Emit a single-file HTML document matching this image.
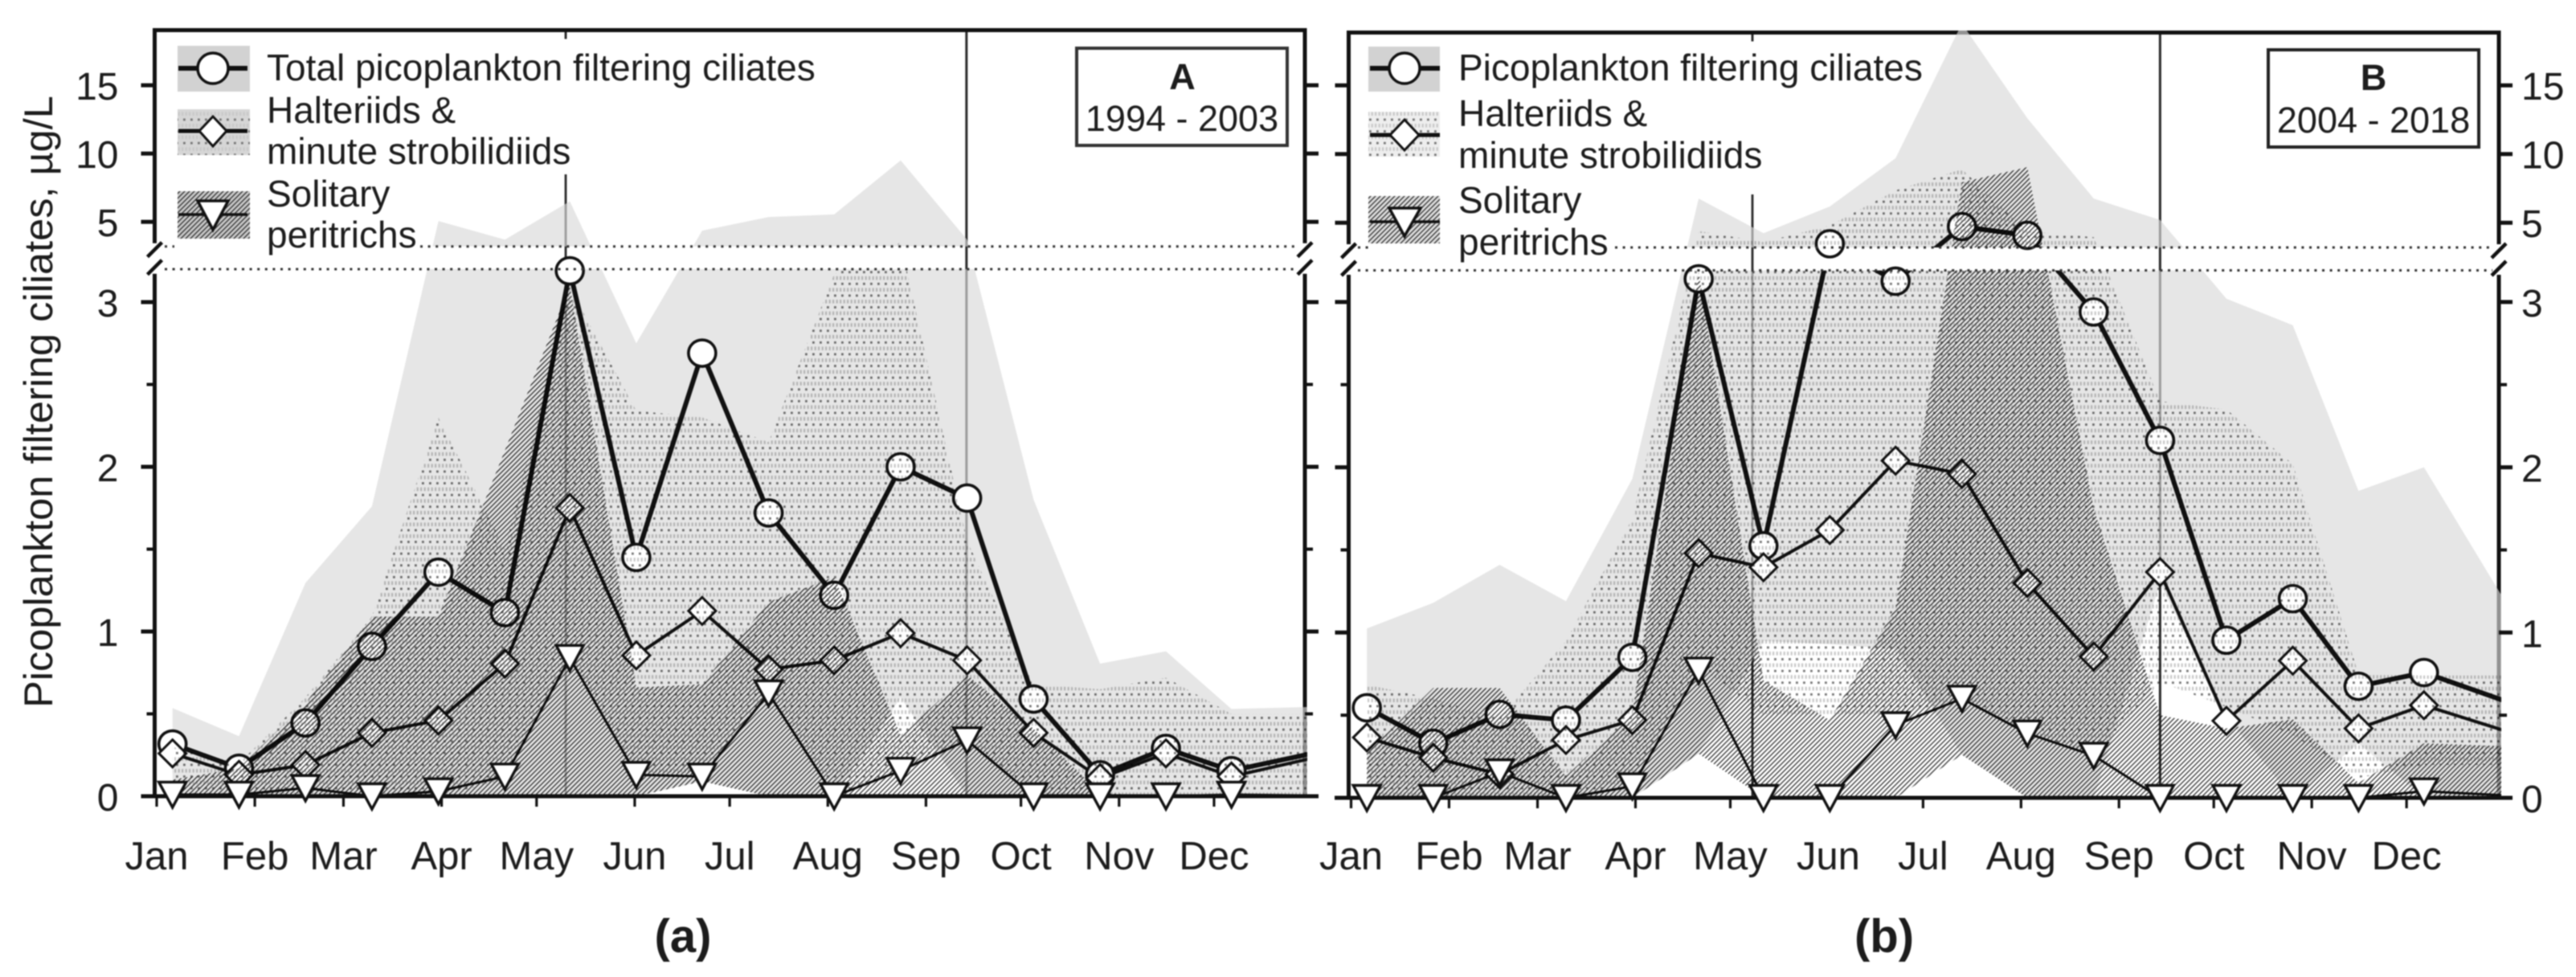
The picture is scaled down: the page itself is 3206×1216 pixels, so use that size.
<!DOCTYPE html>
<html lang="en">
<head>
<meta charset="utf-8">
<title>Picoplankton filtering ciliates, 1994-2003 and 2004-2018</title>
<style>
html,body{margin:0;padding:0;background:#fff;}
svg{display:block;filter:blur(0.85px);}
text{font-family:"Liberation Sans",Arial,sans-serif;fill:#1c1c1c;}
</style>
</head>
<body>
<svg id="chart" xmlns="http://www.w3.org/2000/svg" width="3206" height="1216" viewBox="0 0 3206 1216">
  <defs>
    <pattern id="hatch" patternUnits="userSpaceOnUse" width="6" height="6">
      <path d="M-1,1 L1,-1 M0,6 L6,0 M5,7 L7,5" stroke="#2a2a2a" stroke-width="1.3" fill="none"/>
    </pattern>
    <pattern id="dots" patternUnits="userSpaceOnUse" width="9" height="14.6">
      <rect x="3" y="1.5" width="2.8" height="2.8" fill="#757575"/>
      <rect x="1" y="8" width="2.2" height="4.6" fill="#c8c8c8"/>
      <rect x="5.6" y="8" width="2.2" height="4.6" fill="#c8c8c8"/>
    </pattern>
    <clipPath id="clip-a"><rect x="190" y="35" width="1437" height="271.7"/><rect x="190" y="335" width="1437" height="656"/></clipPath>
    <clipPath id="clip-b"><rect x="1676" y="38" width="1437" height="270"/><rect x="1676" y="336.6" width="1437" height="656.4"/></clipPath>
  </defs>
  <rect x="0" y="0" width="3206" height="1216" fill="#fff"/>
  <g id="panel-a"></g>
  <g id="panel-b"></g>

  <text transform="translate(65 500) rotate(-90)" text-anchor="middle" font-size="50.5">Picoplankton filtering ciliates, µg/L</text>
  <text x="850" y="1185" text-anchor="middle" font-size="58" font-weight="bold">(a)</text>
  <text x="2345" y="1185" text-anchor="middle" font-size="58" font-weight="bold">(b)</text>

  <g>
    <rect x="221" y="57" width="90" height="57" fill="#d2d2d2"/>
    <line x1="222" x2="308" y1="85" y2="85" stroke="#111" stroke-width="6"/>
    <ellipse cx="265" cy="85" rx="19" ry="19" fill="#fff" stroke="#111" stroke-width="3.5"/>
    <text x="332" y="100" font-size="46">Total picoplankton filtering ciliates</text>
    <rect x="221" y="136" width="90" height="57" fill="#d6d6d6"/>
    <rect x="221" y="136" width="90" height="57" fill="url(#dots)"/>
    <line x1="222" x2="308" y1="163" y2="163" stroke="#111" stroke-width="5"/>
    <path d="M265,145 L282,163 L265,182 L248,163 Z" fill="#fff" stroke="#111" stroke-width="3"/>
    <text x="332" y="153" font-size="46">Halteriids &amp;</text>
    <text x="332" y="204" font-size="46">minute strobilidiids</text>
    <rect x="221" y="238" width="90" height="59" fill="#c8c8c8"/>
    <rect x="221" y="238" width="90" height="59" fill="url(#hatch)"/>
    <line x1="222" x2="308" y1="267" y2="267" stroke="#111" stroke-width="3.5"/>
    <path d="M246,250 L284,250 L265,286 Z" fill="#fff" stroke="#111" stroke-width="3.5"/>
    <text x="332" y="257" font-size="46">Solitary</text>
    <text x="332" y="308" font-size="46">peritrichs</text>
  </g>

  <g>
    <rect x="1703" y="58" width="89" height="56" fill="#d2d2d2"/>
    <line x1="1705" x2="1792" y1="85" y2="85" stroke="#111" stroke-width="6"/>
    <ellipse cx="1748" cy="85" rx="19" ry="19" fill="#fff" stroke="#111" stroke-width="3.5"/>
    <text x="1815" y="100" font-size="46">Picoplankton filtering ciliates</text>
    <rect x="1703" y="139" width="89" height="56" fill="#eeeeee"/>
    <rect x="1703" y="139" width="89" height="56" fill="url(#dots)"/>
    <line x1="1705" x2="1792" y1="168" y2="168" stroke="#111" stroke-width="5"/>
    <path d="M1748,149 L1766,168 L1748,187 L1730,168 Z" fill="#fff" stroke="#111" stroke-width="3"/>
    <text x="1815" y="157" font-size="46">Halteriids &amp;</text>
    <text x="1815" y="209" font-size="46">minute strobilidiids</text>
    <rect x="1703" y="244" width="89" height="59" fill="#dddddd"/>
    <rect x="1703" y="244" width="89" height="59" fill="url(#hatch)"/>
    <line x1="1705" x2="1792" y1="276" y2="276" stroke="#111" stroke-width="3.5"/>
    <path d="M1729,259 L1768,259 L1748,294 Z" fill="#fff" stroke="#111" stroke-width="3.5"/>
    <text x="1815" y="265" font-size="46">Solitary</text>
    <text x="1815" y="317" font-size="46">peritrichs</text>
  </g>

  <g>
    <rect x="1340" y="60" width="262" height="121" fill="#fff" stroke="#333" stroke-width="4"/>
    <text x="1471.5" y="111" text-anchor="middle" font-size="45" font-weight="bold">A</text>
    <text x="1471" y="163" text-anchor="middle" font-size="45">1994 - 2003</text>
  </g>
  <g>
    <rect x="2823" y="62" width="262" height="121" fill="#fff" stroke="#222" stroke-width="4"/>
    <text x="2954" y="112" text-anchor="middle" font-size="45" font-weight="bold">B</text>
    <text x="2954" y="165" text-anchor="middle" font-size="45">2004 - 2018</text>
  </g>
</svg>

<script>
// ---- shared categories and ticks ----
var monthLabels = ['Jan','Feb','Mar','Apr','May','Jun','Jul','Aug','Sep','Oct','Nov','Dec'];
var monthStartDays = [0,31,59,90,120,151,181,212,243,273,304,334];
var sampleDays = [5,26,47,68,89,110,130.5,151.5,172.3,193.3,214,235,256,277,298,318.8,339.5,381];
var markerCount = 17;
var majorTicks = [0,1,2,3,5,10,15];
var minorTicks = [0.5,1.5,2.5];

// ---- panel A, 1994-2003 ----
var totalA = [0.317,0.17,0.445,0.91,1.36,1.115,3.19,1.45,2.69,1.72,1.22,2.0,1.81,0.59,0.13,0.29,0.155,0.325];
var haltA = [0.26,0.13,0.19,0.385,0.46,0.805,1.75,0.855,1.125,0.77,0.825,0.99,0.825,0.385,0.11,0.26,0.12,0.30];
var soliA = [0.01,0.01,0.05,0,0.03,0.12,0.84,0.13,0.12,0.625,0,0.155,0.34,0,0,0,0.01,0];
var greyUpA = [0.535,0.365,1.295,1.76,5.06,3.7,6.5,2.75,4.35,5.35,5.54,9.5,3.7,1.8,0.805,0.88,0.53,0.55];
var greyLoA = [0,0,0,0,0,0,0,0,0.09,0,0,0.6,0,0,0,0,0,0];
var dotUpA = [0.3,0.2,0.6,1.09,2.3,1.5,3.09,2.34,2.3,2.15,3.17,3.5,1.55,0.68,0.65,0.72,0.5,0.5];
var dotLoA = [0,0,0,0,0,0.1,0.85,0.13,0.12,0.62,0,0.15,0.35,0,0,0,0,0];
var hatchUpA = [0.1,0.17,0.565,1.09,1.09,2.1,3.1,0.66,0.68,1.18,1.33,0.37,0.735,0.41,0.02,0,0,0];
var hatchLoA = [0,0,0,0,0,0,0,0,0.09,0,0,0,0,0,0,0,0,0];
var refDaysA = [129.2,255.8];

// ---- panel B, 2004-2018 ----
var totalB = [0.545,0.33,0.505,0.47,0.85,3.14,1.525,3.47,3.126,4.72,4.08,2.94,2.163,0.954,1.205,0.675,0.758,0.48];
var haltB = [0.365,0.243,0.143,0.35,0.47,1.48,1.395,1.62,2.04,1.96,1.3,0.855,1.366,0.466,0.83,0.42,0.56,0.31];
var soliB = [0,0,0.155,0,0.07,0.77,0,0,0.44,0.6,0.39,0.255,0,0,0,0,0.04,0];
var greyUpB = [1.025,1.18,1.41,1.19,1.93,6.76,4.24,6.18,9.7,19.5,12.6,6.76,5.2,3.02,2.86,1.857,2.0,0.69];
var greyLoB = [0,0,0,0,0,0.267,0.95,0.93,0.9,0.26,0,0,1.3,0.49,0,0.33,0,0];
var dotUpB = [0.685,0.6,0.48,0.95,1.69,4.4,3.6,4.8,7.35,8.9,4.4,3.94,2.4,2.35,2.02,0.75,0.74,0.74];
var dotLoB = [0,0,0,0,0.1,0.8,0.5,0.5,0.5,0.6,0.4,0.25,0.7,0.55,0.38,0.12,0.2,0.2];
var hatchUpB = [0.27,0.665,0.665,0.13,0.51,3.18,0.71,0.47,1.15,7.94,9.05,1.75,0.5,0.42,0.475,0.09,0.33,0.3];
var hatchLoB = [0,0,0,0,0,0.267,0,0,0,0.26,0,0,0,0,0,0,0,0];
var refDaysB = [127,256];

var breakValue = 3.2;
var SVGNS = 'http://www.w3.org/2000/svg';

function el(tag, attrs, parent, name) {
  var e = document.createElementNS(SVGNS, tag);
  for (var k in attrs) { e.setAttribute(k, attrs[k]); }
  
  
  parent.appendChild(e);
  return e;
}

function drawPanel(cfg) {
  var root = document.getElementById(cfg.id);
  function xOf(day) { return cfg.x0 + cfg.pxDay * day; }
  function yOf(v) {
    if (v <= breakValue) { return cfg.yZero - v * cfg.pxLow; }
    return cfg.yBreak - (v - breakValue) * cfg.pxUp;
  }
  function linePoints(vals) {
    return vals.map(function (v, i) { return xOf(sampleDays[i]).toFixed(1) + ',' + yOf(v).toFixed(1); }).join(' ');
  }
  function bandPoints(up, lo) {
    var p = [];
    for (var i = 0; i < up.length; i++) { p.push(xOf(sampleDays[i]).toFixed(1) + ',' + yOf(up[i]).toFixed(1)); }
    for (var j = lo.length - 1; j >= 0; j--) { p.push(xOf(sampleDays[j]).toFixed(1) + ',' + yOf(lo[j]).toFixed(1)); }
    return p.join(' ');
  }
  var clip = 'url(#' + cfg.clip + ')';

  // vertical reference lines and upper frame sit beneath the translucent grey band
  el('line', {x1: xOf(cfg.refDays[0]), x2: xOf(cfg.refDays[0]), y1: cfg.yTop, y2: cfg.yTop + 11, stroke: '#222', 'stroke-width': 2.8}, root, cfg.tag + '-reference-line-stub');
  el('line', {x1: xOf(cfg.refDays[0]), x2: xOf(cfg.refDays[0]), y1: cfg.refStart, y2: cfg.yZero, stroke: '#2a2a2a', 'stroke-width': 2.8}, root, cfg.tag + '-reference-line-1');
  el('line', {x1: xOf(cfg.refDays[1]), x2: xOf(cfg.refDays[1]), y1: cfg.yTop, y2: cfg.yZero, stroke: '#2a2a2a', 'stroke-width': 3}, root, cfg.tag + '-reference-line-2');

  function fr(d, name) {
    el('path', {d: d, stroke: '#111', 'stroke-width': 5, fill: 'none'}, root, name);
  }
  var yb1 = cfg.yBreak - 4, yb2 = cfg.yBreak + 34;
  fr('M' + cfg.left + ',' + yb1 + ' V' + cfg.yTop + ' H' + cfg.right + ' V' + yb1, cfg.tag + '-frame-top');
  fr('M' + cfg.left + ',' + yb2 + ' V' + cfg.yZero + ' M' + cfg.right + ',' + yb2 + ' V' + cfg.yZero, cfg.tag + '-frame-lower');

  // grey range band and series lines sit under the patterned bands
  var under = el('g', {'clip-path': clip}, root, cfg.tag + '-lower-layer');
  el('polygon', {points: bandPoints(cfg.greyUp, cfg.greyLo), fill: 'rgb(216,216,216)', 'fill-opacity': 0.65}, under, cfg.tag + '-total-range-band');
  el('polyline', {points: linePoints(cfg.total), fill: 'none', stroke: '#111', 'stroke-width': 6, 'stroke-linejoin': 'round'}, under, cfg.tag + '-total-line');
  el('polyline', {points: linePoints(cfg.halt), fill: 'none', stroke: '#111', 'stroke-width': 4, 'stroke-linejoin': 'round'}, under, cfg.tag + '-halteriid-line');
  el('polyline', {points: linePoints(cfg.soli), fill: 'none', stroke: '#111', 'stroke-width': 3, 'stroke-linejoin': 'round'}, under, cfg.tag + '-peritrich-line');

  // hollow circle and diamond markers: the patterned bands show through them
  var i, x, y;
  for (i = 0; i < markerCount; i++) {
    x = xOf(sampleDays[i]);
    y = yOf(cfg.total[i]);
    el('ellipse', {cx: x, cy: y, rx: 17, ry: 16.5, fill: '#fff', stroke: '#111', 'stroke-width': 3.6}, root, cfg.tag + '-total-point');
  }
  for (i = 0; i < markerCount; i++) {
    x = xOf(sampleDays[i]);
    y = yOf(cfg.halt[i]);
    el('polygon', {points: x + ',' + (y - 17) + ' ' + (x + 17) + ',' + y + ' ' + x + ',' + (y + 17) + ' ' + (x - 17) + ',' + y, fill: '#fff', stroke: '#111', 'stroke-width': 3}, root, cfg.tag + '-halteriid-point');
  }

  // multiply keeps the dark lines solid where the patterned bands cross them
  var over = el('g', {'clip-path': clip, style: 'mix-blend-mode:multiply'}, root, cfg.tag + '-pattern-layer');
  el('polygon', {points: bandPoints(cfg.dotUp, cfg.dotLo), fill: 'url(#dots)'}, over, cfg.tag + '-halteriid-range-band');
  el('polygon', {points: bandPoints(cfg.hatchUp, cfg.hatchLo), fill: 'url(#hatch)'}, over, cfg.tag + '-peritrich-range-band');

  // x axis and break marks
  fr('M' + cfg.axisStart + ',' + cfg.yZero + ' H' + cfg.axisEnd, cfg.tag + '-x-axis');
  [cfg.left, cfg.right].forEach(function (fx) {
    el('line', {x1: fx - 9, y1: cfg.yBreak + 13, x2: fx + 9, y2: cfg.yBreak - 5, stroke: '#111', 'stroke-width': 4.5}, root, cfg.tag + '-axis-break-upper');
    el('line', {x1: fx - 9, y1: cfg.yBreak + 35, x2: fx + 9, y2: cfg.yBreak + 17, stroke: '#111', 'stroke-width': 4.5}, root, cfg.tag + '-axis-break-lower');
  });

  // y ticks
  majorTicks.forEach(function (t) {
    var ty = yOf(t);
    el('line', {x1: cfg.left - 17, x2: cfg.left, y1: ty, y2: ty, stroke: '#111', 'stroke-width': 5}, root, cfg.tag + '-left-tick');
    el('line', {x1: cfg.right, x2: cfg.right + 17, y1: ty, y2: ty, stroke: '#111', 'stroke-width': 5}, root, cfg.tag + '-right-tick');
    if (cfg.labelSide === 'left') {
      var a = el('text', {x: cfg.left - 45, y: ty + 18, 'text-anchor': 'end', 'font-size': 48}, root, 'y-tick-label-' + t);
      a.textContent = String(t);
    } else {
      var b = el('text', {x: cfg.right + 28, y: ty + 18, 'text-anchor': 'start', 'font-size': 48}, root, 'y-tick-label-' + t);
      b.textContent = String(t);
    }
  });
  minorTicks.forEach(function (t) {
    var ty = yOf(t);
    el('line', {x1: cfg.left - 10, x2: cfg.left, y1: ty, y2: ty, stroke: '#111', 'stroke-width': 4}, root, cfg.tag + '-left-minor-tick');
    el('line', {x1: cfg.right, x2: cfg.right + 10, y1: ty, y2: ty, stroke: '#111', 'stroke-width': 4}, root, cfg.tag + '-right-minor-tick');
  });

  // month ticks and labels
  monthStartDays.forEach(function (d, m) {
    var tx = xOf(d);
    el('line', {x1: tx, x2: tx, y1: cfg.yZero, y2: cfg.yZero + 13, stroke: '#111', 'stroke-width': 3.2}, root, cfg.tag + '-month-tick');
    var lab = el('text', {x: tx, y: 1082, 'text-anchor': 'middle', 'font-size': 49}, root, cfg.tag + '-month-label-' + monthLabels[m].toLowerCase());
    lab.textContent = monthLabels[m];
  });

  // dotted lines either side of the break
  cfg.breakDots.forEach(function (seg) {
    el('line', {x1: seg[0], x2: seg[1], y1: seg[2] === 0 ? cfg.yBreak : cfg.yLowBreak, y2: seg[2] === 0 ? cfg.yBreak : cfg.yLowBreak, stroke: '#333', 'stroke-width': 3, 'stroke-dasharray': '3 6.6'}, root, cfg.tag + '-break-dotted-line');
  });

  // triangles are opaque and sit above everything
  for (i = 0; i < markerCount; i++) {
    x = xOf(sampleDays[i]);
    y = yOf(cfg.soli[i]);
    el('polygon', {points: (x - 17) + ',' + (y - 15.5) + ' ' + (x + 17) + ',' + (y - 15.5) + ' ' + x + ',' + (y + 16), fill: '#fff', stroke: '#111', 'stroke-width': 3.4}, root, cfg.tag + '-peritrich-point');
  }
}

drawPanel({
  id: 'panel-a', tag: 'a', clip: 'clip-a', labelSide: 'left',
  x0: 195, pxDay: 3.94, yZero: 991, pxLow: 205, yBreak: 306.7, yLowBreak: 335, pxUp: 17,
  left: 192.5, right: 1624, yTop: 37.5, axisStart: 177, axisEnd: 1641, refStart: 217,
  breakDots: [[205,217,0],[523,1616,0],[205,1616,1]],
  total: totalA, halt: haltA, soli: soliA, greyUp: greyUpA, greyLo: greyLoA,
  dotUp: dotUpA, dotLo: dotLoA, hatchUp: hatchUpA, hatchLo: hatchLoA, refDays: refDaysA
});
drawPanel({
  id: 'panel-b', tag: 'b', clip: 'clip-b', labelSide: 'right',
  x0: 1681.5, pxDay: 3.933, yZero: 993, pxLow: 205.7, yBreak: 308, yLowBreak: 336.5, pxUp: 17.1,
  left: 1678.5, right: 3110, yTop: 40.5, axisStart: 1661, axisEnd: 3126, refStart: 242,
  breakDots: [[1690,1706,0],[2010,3102,0],[1690,3102,1]],
  total: totalB, halt: haltB, soli: soliB, greyUp: greyUpB, greyLo: greyLoB,
  dotUp: dotUpB, dotLo: dotLoB, hatchUp: hatchUpB, hatchLo: hatchLoB, refDays: refDaysB
});
</script>
</body>
</html>
